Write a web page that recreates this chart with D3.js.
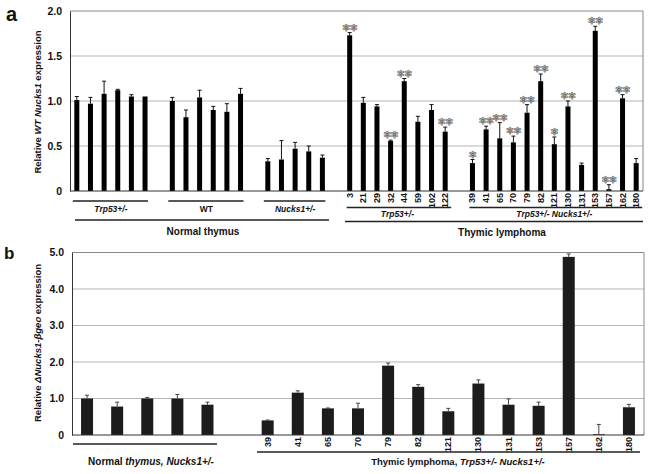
<!DOCTYPE html>
<html>
<head>
<meta charset="utf-8">
<script src="https://cdn.jsdelivr.net/npm/d3@7"></script>
<style>
    body { margin: 0; background: #fff; }
    text { font-family: "Liberation Sans", Arial, sans-serif; font-weight: bold; fill: #111; }
    .grid { stroke: #b5b5b5; stroke-width: 1; }
    .frame { stroke: #888; stroke-width: 1; fill: none; }
</style>
</head>
<body>
<svg width="650" height="474"></svg>
<script>
// ---- panel a data ----
var aGroupNames = ["Trp53+/-", "WT", "Nucks1+/-", "Trp53+/-", "Trp53+/- Nucks1+/-"];
var aNormTrp53 = [1.01, 0.97, 1.08, 1.12, 1.05, 1.05];
var aNormTrp53Err = [0.04, 0.07, 0.14, 0.01, 0.02, 0];
var aNormWT = [1.00, 0.82, 1.04, 0.90, 0.88, 1.08];
var aNormWTErr = [0.04, 0.08, 0.08, 0.04, 0.09, 0.06];
var aNormNucks = [0.33, 0.35, 0.47, 0.44, 0.37];
var aNormNucksErr = [0.03, 0.21, 0.07, 0.06, 0.03];
var aLymTrp53Ids = ["3", "21", "29", "32", "44", "59", "102", "122"];
var aLymTrp53 = [1.73, 0.98, 0.94, 0.555, 1.22, 0.77, 0.90, 0.66];
var aLymTrp53Err = [0.03, 0.06, 0.02, 0.01, 0.03, 0.06, 0.06, 0.05];
var aLymTrp53Sig = ["**", "", "", "**", "**", "", "", "**"];
var aLymDblIds = ["39", "41", "65", "70", "79", "82", "121", "130", "131", "153", "157", "162", "180"];
var aLymDbl = [0.31, 0.685, 0.585, 0.54, 0.87, 1.22, 0.52, 0.94, 0.29, 1.78, 0.02, 1.03, 0.31];
var aLymDblErr = [0.04, 0.035, 0.175, 0.07, 0.09, 0.08, 0.08, 0.06, 0.02, 0.05, 0.05, 0.04, 0.05];
var aLymDblSig = ["*", "**", "**", "**", "**", "**", "*", "**", "", "**", "**", "**", ""];
var aTicks = [0, 0.5, 1.0, 1.5, 2.0];

// ---- panel b data ----
var bNormal = [1.00, 0.78, 1.00, 1.00, 0.83];
var bNormalErr = [0.09, 0.12, 0.03, 0.11, 0.07];
var bLymIds = ["39", "41", "65", "70", "79", "82", "121", "130", "131", "153", "157", "162", "180"];
var bLym = [0.40, 1.16, 0.73, 0.73, 1.90, 1.32, 0.65, 1.41, 0.83, 0.80, 4.88, 0.02, 0.76];
var bLymErr = [0.01, 0.05, 0.01, 0.14, 0.07, 0.06, 0.08, 0.10, 0.16, 0.10, 0.08, 0.27, 0.08];
var bTicks = [0, 1, 2, 3, 4, 5];

var svg = d3.select("svg");

// build rows + band keys (one empty slot between groups)
function buildRows(sets) {
    var rows = [], keys = [];
    sets.forEach(function(s, i) {
        if (i > 0) keys.push("gap" + i);
        s.vals.forEach(function(v, j) {
            var k = i + "-" + j;
            keys.push(k);
            rows.push({key: k, group: i, v: v, e: s.errs[j], id: s.ids ? s.ids[j] : "", sig: s.sig ? s.sig[j] : ""});
        });
    });
    return {rows: rows, keys: keys};
}

function drawPanel(opt) {
    var g = svg.append("g");
    var x = d3.scaleBand().domain(opt.keys).range([opt.x0, opt.x1]);
    var y = d3.scaleLinear().domain(opt.domain).range([opt.yBottom, opt.yTop]);
    var cx = function(k) { return x(k) + x.bandwidth() / 2; };

    // gridlines
    g.selectAll(".grid").data(opt.ticks.slice(1, -1)).enter().append("line")
        .attr("class", "grid")
        .attr("x1", opt.x0).attr("x2", opt.x1)
        .attr("y1", function(d) { return y(d); }).attr("y2", function(d) { return y(d); });
    // top + right frame
    g.append("path").attr("class", "frame")
        .attr("d", "M" + opt.x0 + "," + y(opt.domain[1]) + "H" + opt.x1 + "V" + opt.yBottom);

    // bars
    g.selectAll(".bar").data(opt.rows).enter().append("rect")
        .attr("x", function(d) { return cx(d.key) - opt.bw / 2; })
        .attr("y", function(d) { return y(d.v); })
        .attr("width", opt.bw)
        .attr("height", function(d) { return y(0) - y(d.v); })
        .attr("fill", opt.color);

    // error bars
    var eb = g.selectAll(".err").data(opt.rows.filter(function(d) { return d.e > 0; })).enter().append("g");
    eb.append("line")
        .attr("x1", function(d) { return cx(d.key); }).attr("x2", function(d) { return cx(d.key); })
        .attr("y1", function(d) { return y(d.v); }).attr("y2", function(d) { return y(d.v + d.e); })
        .attr("stroke", opt.errColor).attr("stroke-width", 1);
    eb.append("line")
        .attr("x1", function(d) { return cx(d.key) - 2; }).attr("x2", function(d) { return cx(d.key) + 2; })
        .attr("y1", function(d) { return y(d.v + d.e); }).attr("y2", function(d) { return y(d.v + d.e); })
        .attr("stroke", opt.errColor).attr("stroke-width", 1);

    // significance stars
    g.selectAll(".sig").data(opt.rows.filter(function(d) { return d.sig; })).enter().append("text")
        .attr("x", function(d) { return cx(d.key); })
        .attr("y", function(d) { return y(d.v + d.e) - 2; })
        .attr("text-anchor", "middle")
        .style("font-family", "DejaVu Sans").style("font-size", "9.5px").style("font-weight", "normal")
        .style("fill", "#e4e4e4").style("stroke", "#666").style("stroke-width", "0.6")
        .style("letter-spacing", "-0.5px")
        .text(function(d) { return d.sig.replace(/\*/g, "\u273b"); });

    // y axis
    var ax = g.append("g").attr("transform", "translate(" + opt.x0 + ",0)")
        .call(d3.axisLeft(y).tickValues(opt.ticks).tickSize(0).tickPadding(8)
            .tickFormat(function(d) { return d === 0 ? "0" : d3.format(".1f")(d); }));
    ax.select(".domain").attr("stroke", "#333");
    ax.selectAll("text").style("font-size", "10.5px").style("font-family", "Liberation Sans, Arial, sans-serif");

    // x baseline
    g.append("line").attr("x1", opt.x0).attr("x2", opt.x1)
        .attr("y1", opt.yBottom).attr("y2", opt.yBottom).attr("stroke", "#333");

    // sample id labels
    g.selectAll(".id").data(opt.rows.filter(function(d) { return d.id; })).enter().append("text")
        .attr("transform", function(d) { return "translate(" + (cx(d.key) + 3) + "," + (opt.yBottom + 2) + ") rotate(-90)"; })
        .attr("text-anchor", "end")
        .style("font-size", "9px")
        .text(function(d) { return d.id; });

    return {x: x, y: y, cx: cx};
}

function hline(x1, x2, yy) {
    svg.append("line").attr("x1", x1).attr("x2", x2).attr("y1", yy).attr("y2", yy)
        .attr("stroke", "#222").attr("stroke-width", 1.3);
}
function label(xx, yy, parts, size) {
    var t = svg.append("text").attr("x", xx).attr("y", yy).attr("text-anchor", "middle").style("font-size", size + "px");
    parts.forEach(function(p) {
        t.append("tspan").style("font-style", p[1] ? "italic" : "normal").text(p[0]);
    });
    return t;
}

// ---------- panel a ----------
var A = buildRows([
    {vals: aNormTrp53, errs: aNormTrp53Err},
    {vals: aNormWT, errs: aNormWTErr},
    {vals: aNormNucks, errs: aNormNucksErr},
    {vals: aLymTrp53, errs: aLymTrp53Err, ids: aLymTrp53Ids, sig: aLymTrp53Sig},
    {vals: aLymDbl, errs: aLymDblErr, ids: aLymDblIds, sig: aLymDblSig}
]);
var pa = drawPanel({keys: A.keys, rows: A.rows, x0: 70, x1: 643, yTop: 11, yBottom: 191,
    domain: [0, 2], ticks: aTicks, bw: 5, color: "#000", errColor: "#111"});

// group underlines for panel a
[0, 1, 2, 3, 4].forEach(function(gi) {
    var r = A.rows.filter(function(d) { return d.group === gi; });
    var first = pa.cx(r[0].key), last = pa.cx(r[r.length - 1].key);
    var lym = gi >= 3;
    var yy = lym ? 207.5 : 201;
    hline(first - (lym ? 3 : 4), last + (lym ? 6 : 3), yy);
    var italic = aGroupNames[gi] !== "WT";
    label((first + last) / 2, lym ? 217 : 212, [[aGroupNames[gi], italic]], 8.5);
});
hline(75, 329, 220);
label(203, 235, [["Normal thymus", false]], 10);
hline(345, 643, 221.5);
label(502, 236, [["Thymic lymphoma", false]], 10);

// ---------- panel b ----------
var B = buildRows([
    {vals: bNormal, errs: bNormalErr},
    {vals: bLym, errs: bLymErr, ids: bLymIds}
]);
var pb = drawPanel({keys: B.keys, rows: B.rows, x0: 72, x1: 644, yTop: 252.5, yBottom: 435,
    domain: [0, 5], ticks: bTicks, bw: 12, color: "#1c1c1c", errColor: "#444"});
hline(73, 217, 444);
label(151, 465, [["Normal ", false], ["thymus, Nucks1+/-", true]], 10);
hline(257, 640, 452);
label(458, 465, [["Thymic lymphoma, ", false], ["Trp53+/-  Nucks1+/-", true]], 9.5);

// axis titles + panel letters
svg.append("text").attr("transform", "translate(41,102) rotate(-90)").attr("text-anchor", "middle")
    .style("font-size", "9.5px")
    .call(function(t) {
        t.append("tspan").text("Relative ");
        t.append("tspan").style("font-style", "italic").text("WT Nucks1");
        t.append("tspan").text(" expression");
    });
svg.append("text").attr("transform", "translate(41,343) rotate(-90)").attr("text-anchor", "middle")
    .style("font-size", "9.5px")
    .call(function(t) {
        t.append("tspan").text("Relative ");
        t.append("tspan").style("font-style", "italic").text("\u0394Nucks1-\u03b2geo");
        t.append("tspan").text(" expression");
    });
svg.append("text").attr("x", 6).attr("y", 21).style("font-size", "20px").text("a");
svg.append("text").attr("x", 4).attr("y", 259).style("font-size", "17px").text("b");
</script>
</body>
</html>
